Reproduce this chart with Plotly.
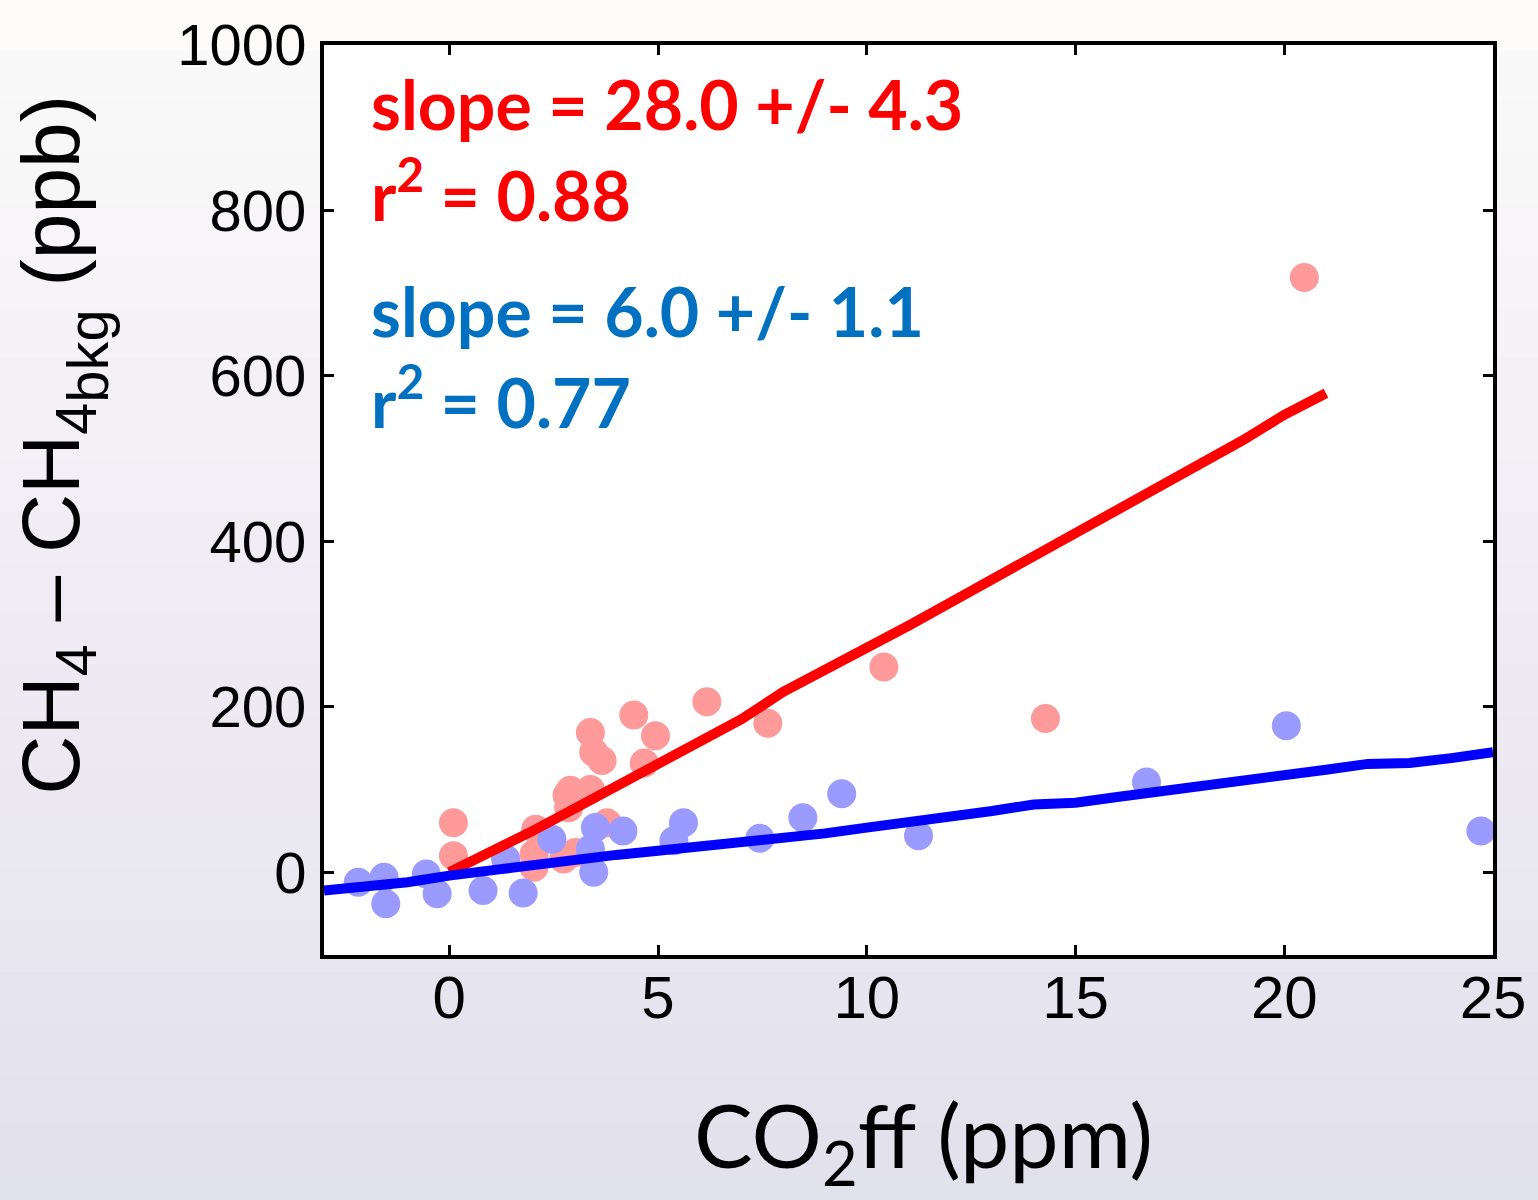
import plotly.graph_objects as go

# ---- data ----
red_x = [0.10, 0.10, 2.03, 2.07, 2.03, 2.74, 3.02, 2.82, 2.86, 2.90, 3.38, 3.78,
         3.38, 3.46, 3.66, 4.42, 4.94, 4.67, 6.17, 7.63, 10.41, 14.28, 20.48]
red_y = [60, 20, 6, 52, 22, 16, 24, 93, 78, 99, 100, 60,
         169, 145, 135, 190, 165, 132, 206, 180, 248, 186, 719]

blue_x = [-2.18, -1.56, -1.52, -0.55, -0.29, 0.81, 1.77, 1.35, 2.46, 3.50, 4.16,
          3.38, 3.46, 5.61, 5.38, 7.44, 8.47, 9.40, 11.24, 16.70, 20.05, 24.71]
blue_y = [-12, -6, -38, -2, -26, -22, -25, 16, 40, 54, 50,
          28, 0, 60, 38, 41, 66, 95, 44, 109, 177, 50]

red_fit_x = list(range(0, 22))
red_fit_y = [0, 24, 50, 77, 104, 130, 158, 185, 218, 244, 272, 298, 326, 354,
             380, 408, 439, 465, 495, 522, 553, 579]

blue_fit_x = list(range(-3, 26))
blue_fit_y = [-22, -18, -12, -4, 3, 10, 16, 21, 26, 31, 35, 42, 47, 54, 60, 67,
              74, 82, 84, 91, 97, 104, 111, 118, 124, 131, 132, 138, 145]

x_ticks = [0, 5, 10, 15, 20, 25]
y_ticks = [0, 200, 400, 600, 800, 1000]

red_label = ["slope = 28.0 +/- 4.3", "r<sup>2</sup> = 0.88"]
blue_label = ["slope = 6.0 +/- 1.1", "r<sup>2</sup> = 0.77"]

fig = go.Figure()
fig.add_trace(go.Scatter(x=red_x, y=red_y, mode="markers",
                         marker=dict(size=29, color="#ff9a9a", line=dict(width=0)),
                         showlegend=False))
fig.add_trace(go.Scatter(x=blue_x, y=blue_y, mode="markers",
                         marker=dict(size=29, color="#9a9aff", line=dict(width=0)),
                         showlegend=False))
fig.add_trace(go.Scatter(x=red_fit_x, y=red_fit_y, mode="lines",
                         line=dict(color="#ff0000", width=10), showlegend=False))
fig.add_trace(go.Scatter(x=blue_fit_x, y=blue_fit_y, mode="lines",
                         line=dict(color="#0000ff", width=10), showlegend=False))

# background gradient (paper) bands
shapes = []
top = (252, 251, 250)
mid = (240, 236, 245)
bot = (226, 226, 236)
n = 24
for i in range(n):
    t = i / (n - 1)
    if t < 0.5:
        a, b, u = top, mid, t / 0.5
    else:
        a, b, u = mid, bot, (t - 0.5) / 0.5
    c = tuple(int(a[k] + (b[k] - a[k]) * u) for k in range(3))
    shapes.append(dict(type="rect", xref="paper", yref="paper", layer="below",
                       x0=-1, x1=2, y0=1.05 - (i + 1) * 1.35 / n - 0.01,
                       y1=1.05 - i * 1.35 / n,
                       fillcolor="rgb(%d,%d,%d)" % c, line=dict(width=0)))
shapes.append(dict(type="rect", xref="paper", yref="paper", layer="below",
                   x0=0, x1=1, y0=0, y1=1, fillcolor="white", line=dict(width=0)))

calib = "Lato, 'Open Sans', sans-serif"
annotations = []
for txt, yy, col in [(red_label[0], 0.936, "#ff0000"), (red_label[1], 0.841, "#ff0000"),
                     (blue_label[0], 0.708, "#0070c0"), (blue_label[1], 0.613, "#0070c0")]:
    annotations.append(dict(text="<b>%s</b>" % txt, xref="paper", yref="paper",
                            x=0.0384, y=yy, xanchor="left", yanchor="middle",
                            showarrow=False, font=dict(family=calib, size=68, color=col)))

annotations.append(dict(
    text="CH<sub>4</sub> \u2013 CH<sub>4<sub><span style='font-size:58px'>bkg</span></sub></sub> (ppb)",
    xref="paper", yref="paper", x=-0.224, y=0.561,
    xanchor="center", yanchor="middle", textangle=-90, showarrow=False,
    font=dict(family="Liberation Sans, Arial", size=82, color="black")))
annotations.append(dict(text="CO<sub>2</sub>ff (ppm)", xref="paper", yref="paper",
                        x=0.513, y=-0.203, xanchor="center", yanchor="middle",
                        showarrow=False,
                        font=dict(family=calib, size=88, color="black")))

axis_common = dict(showline=True, linewidth=4, linecolor="black", mirror="ticks",
                   ticks="inside", ticklen=10, tickwidth=3, tickcolor="black",
                   showgrid=False, zeroline=False, ticklabeloverflow="allow")

fig.update_layout(
    width=1538, height=1200, autosize=False,
    margin=dict(l=324, r=41, t=33, b=245),
    paper_bgcolor="rgb(236,235,244)", plot_bgcolor="rgba(0,0,0,0)",
    shapes=shapes, annotations=annotations,
    xaxis=dict(range=[-3, 25], tickvals=x_ticks, ticktext=[str(v) for v in x_ticks],
               ticklabelstandoff=-13,
               tickfont=dict(family="Liberation Sans, Arial", size=60, color="black"),
               **axis_common),
    yaxis=dict(range=[-100, 1000], tickvals=y_ticks, ticktext=[str(v) for v in y_ticks],
               ticklabelstandoff=2,
               tickfont=dict(family="Liberation Sans, Arial", size=58, color="black"),
               **axis_common),
)

fig.write_html("out.html", config={"displayModeBar": False},
               post_script="document.body.style.margin='0';document.body.style.background='rgb(236,235,244)';")
